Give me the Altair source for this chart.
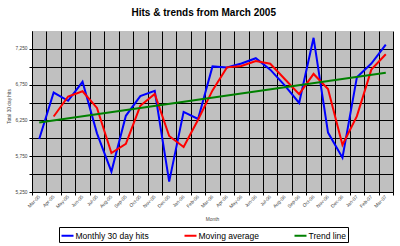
import json
import altair as alt
import pandas as pd

# ---- data ----
months = ["Mar-05", "Apr-05", "May-05", "Jun-05", "Jul-05", "Aug-05", "Sep-05",
          "Oct-05", "Nov-05", "Dec-05", "Jan-06", "Feb-06", "Mar-06", "Apr-06",
          "May-06", "Jun-06", "Jul-06", "Aug-06", "Sep-06", "Oct-06", "Nov-06",
          "Dec-06", "Jan-07", "Feb-07", "Mar-07"]
hits = [5990, 6640, 6525, 6790, 6070, 5535, 6315, 6590, 6665, 5395, 6370, 6270,
        7005, 6990, 7045, 7120, 6960, 6740, 6495, 7405, 6080, 5730, 6855, 7045, 7310]
moving_avg = [None, 6305, 6585, 6658, 6425, 5795, 5922, 6455, 6620, 6033, 5878, 6260,
              6670, 6992, 7010, 7080, 7042, 6830, 6617, 6900, 6690, 5908, 6310, 6960, 7175]
trend_months = ["Mar-05", "Mar-07"]
trend = [6222, 6917]

series_names = ["Monthly 30 day hits", "Moving average", "Trend line"]
series_colors = ["#0000FF", "#FF0000", "#008000"]

rows = []
for i, m in enumerate(months):
    rows.append({"idx": i, "month": m, "value": hits[i], "series": series_names[0]})
for i, m in enumerate(months):
    if moving_avg[i] is not None:
        rows.append({"idx": i, "month": m, "value": moving_avg[i], "series": series_names[1]})
for m, v in zip(trend_months, trend):
    rows.append({"idx": months.index(m), "month": m, "value": v, "series": series_names[2]})
df = pd.DataFrame(rows)

W, H = 361, 161
n = len(months)
bounds = [i - 0.5 for i in range(n + 1)]
x_label_expr = "(" + json.dumps(months) + ")[round(datum.value + 0.5)] || ''"
y_vals = [5250 + 250 * k for k in range(9)]
y_label_expr = "(datum.value - 5250) % 500 == 0 ? format(datum.value, ',') : ''"

FONT = "Liberation Sans"
AX_FS = 4.8
AX_COL = "#444444"

chart = alt.Chart(df).mark_line(strokeWidth=2).encode(
    x=alt.X("idx:Q",
            scale=alt.Scale(domain=[-0.5, n - 0.5], nice=False, zero=False),
            axis=alt.Axis(values=bounds, labelExpr=x_label_expr,
                          labelOffset=W / n / 2, labelAngle=315, labelAlign="right",
                          labelBaseline="middle", labelFontSize=AX_FS, labelFont=FONT,
                          labelColor=AX_COL, labelOverlap=False, labelFlush=False,
                          labelPadding=1, tickSize=3, tickColor="black",
                          domainColor="black", gridColor="black", gridOpacity=1,
                          gridWidth=1, title="Month", titleFontSize=AX_FS,
                          titleFont=FONT, titleFontWeight="normal", titleColor=AX_COL,
                          titleX=180, titleY=27, titleAlign="center",
                          titleBaseline="middle")),
    y=alt.Y("value:Q",
            scale=alt.Scale(domain=[5250, 7500], nice=False, zero=False),
            axis=alt.Axis(values=y_vals, labelExpr=y_label_expr, labelFontSize=AX_FS,
                          labelFont=FONT, labelColor=AX_COL, labelPadding=2,
                          tickSize=3, tickColor="black", domainColor="black",
                          gridColor="black", gridOpacity=1, gridWidth=1,
                          title="Total 30 day hits", titleFontSize=AX_FS, titleFont=FONT,
                          titleFontWeight="normal", titleColor=AX_COL,
                          titleX=-23, titleY=75, titleAngle=270,
                          titleAlign="center", titleBaseline="middle")),
    color=alt.Color("series:N",
                    scale=alt.Scale(domain=series_names, range=series_colors),
                    legend=alt.Legend(title="\u00a0\u00a0\u00a0\u00a0\u00a0",
                                      titleOrient="left", titlePadding=0,
                                      titleFontSize=8.5, titleFont=FONT,
                                      orient="none", legendX=27, legendY=196,
                                      direction="horizontal", strokeColor="black",
                                      fillColor="white", padding=1.5,
                                      symbolType="stroke", symbolSize=144,
                                      symbolStrokeWidth=2, labelFontSize=8.5,
                                      labelFont=FONT, labelColor="black",
                                      columnPadding=31, labelOffset=1,
                                      labelExpr="datum.label == 'Trend line' ? datum.label + '\u00a0\u00a0\u00a0\u00a0\u00a0' : datum.label")),
).properties(
    width=W, height=H,
    title=alt.TitleParams("Hits & trends from March 2005", fontSize=10,
                          fontWeight="bold", font=FONT, anchor="middle",
                          frame="bounds", offset=13, color="black"),
    autosize=alt.AutoSizeParams(type="none"),
    padding={"left": 32, "top": 31, "right": 7, "bottom": 54},
    background="white",
).configure_view(fill="#C0C0C0", stroke=None)

chart.save("out.html", embed_options={"renderer": "svg", "actions": False})
